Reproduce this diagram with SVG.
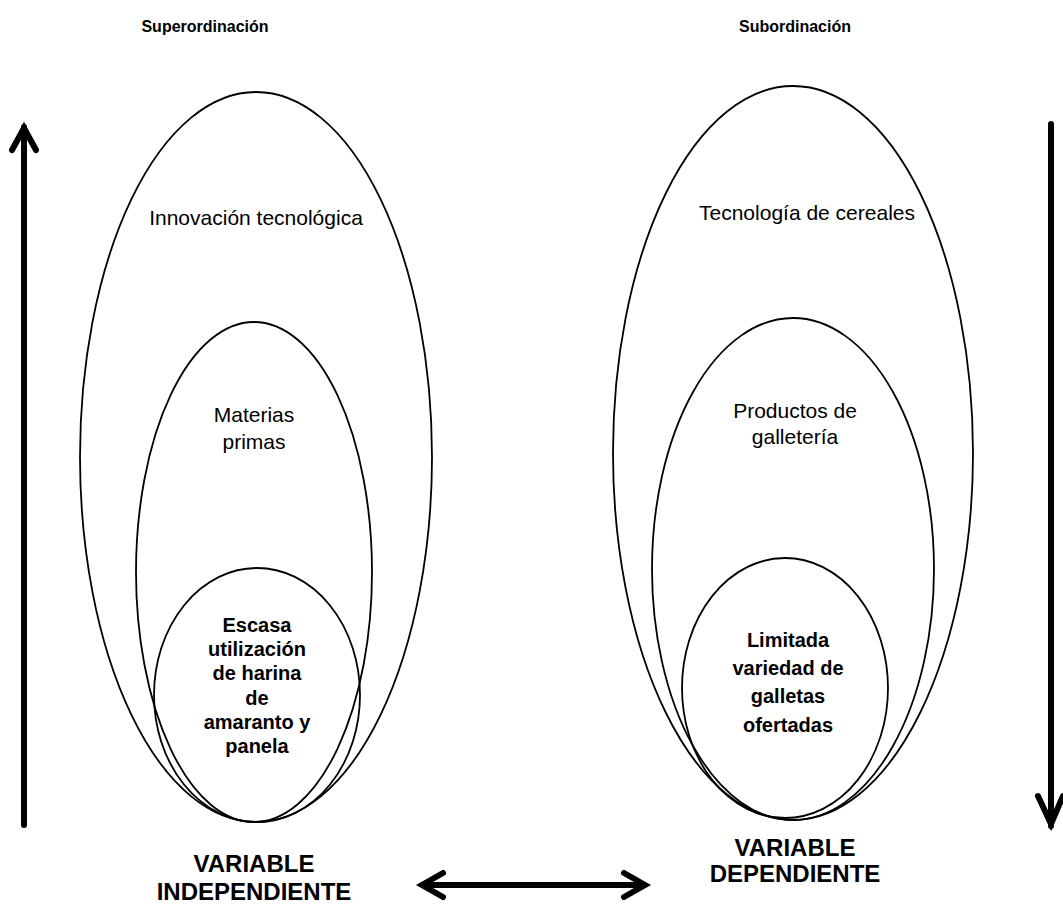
<svg xmlns="http://www.w3.org/2000/svg" width="1063" height="904" viewBox="0 0 1063 904">
<style>
.e{fill:none;stroke:#000;stroke-width:1.8}
.t{font-family:"Liberation Sans",Arial,sans-serif;fill:#000;text-anchor:middle}
.r{font-size:21px}
.b{font-size:20px;font-weight:bold}
.h{font-size:16px;font-weight:bold}
.v{font-size:24px;font-weight:bold}
.a{fill:none;stroke:#000;stroke-width:6;stroke-linecap:round;stroke-linejoin:miter}
</style>
<rect width="1063" height="904" fill="#fff"/>
<g id="title-left"><text class="t h" x="205" y="32">Superordinación</text></g>
<g id="title-right"><text class="t h" x="795" y="32">Subordinación</text></g>
<g id="left-outer"><ellipse class="e" cx="256" cy="457" rx="176" ry="365"/><text class="t r" x="256" y="225">Innovación tecnológica</text></g>
<g id="left-middle"><ellipse class="e" cx="254" cy="572" rx="118" ry="250"/><text class="t r" x="254" y="422">Materias</text><text class="t r" x="254" y="449">primas</text></g>
<g id="left-inner"><ellipse class="e" cx="257" cy="695" rx="103" ry="127"/>
<text class="t b" x="257" y="632">Escasa</text><text class="t b" x="257" y="656">utilización</text><text class="t b" x="257" y="680">de harina</text><text class="t b" x="257" y="705">de</text><text class="t b" x="257" y="729">amaranto y</text><text class="t b" x="257" y="753">panela</text></g>
<g id="right-outer"><ellipse class="e" cx="793" cy="453" rx="180" ry="367"/><text class="t r" x="807" y="220">Tecnología de cereales</text></g>
<g id="right-middle"><ellipse class="e" cx="793" cy="569" rx="141" ry="251"/><text class="t r" x="795" y="418">Productos de</text><text class="t r" x="795" y="444">galletería</text></g>
<g id="right-inner"><ellipse class="e" cx="785" cy="688" rx="103" ry="130"/>
<text class="t b" x="788" y="647">Limitada</text><text class="t b" x="788" y="675">variedad de</text><text class="t b" x="788" y="703">galletas</text><text class="t b" x="788" y="732">ofertadas</text></g>
<g id="label-independiente"><text class="t v" x="254" y="872">VARIABLE</text><text class="t v" x="254" y="900">INDEPENDIENTE</text></g>
<g id="label-dependiente"><text class="t v" x="795" y="856">VARIABLE</text><text class="t v" x="795" y="882">DEPENDIENTE</text></g>
<g id="connectors">
<path class="a" d="M24 825 V127" stroke-linecap="butt"/>
<path class="a" d="M12 150 L24 128 L36 150"/>
<path class="a" d="M1051 124 V826" stroke-linecap="butt"/>
<path class="a" d="M1038 796 L1051 824 L1063 796"/>
<path class="a" d="M424 885 H643" stroke-linecap="butt"/>
<path class="a" d="M443 873 L422 885 L443 897"/>
<path class="a" d="M624 873 L645 885 L624 897"/>
</g>
</svg>
